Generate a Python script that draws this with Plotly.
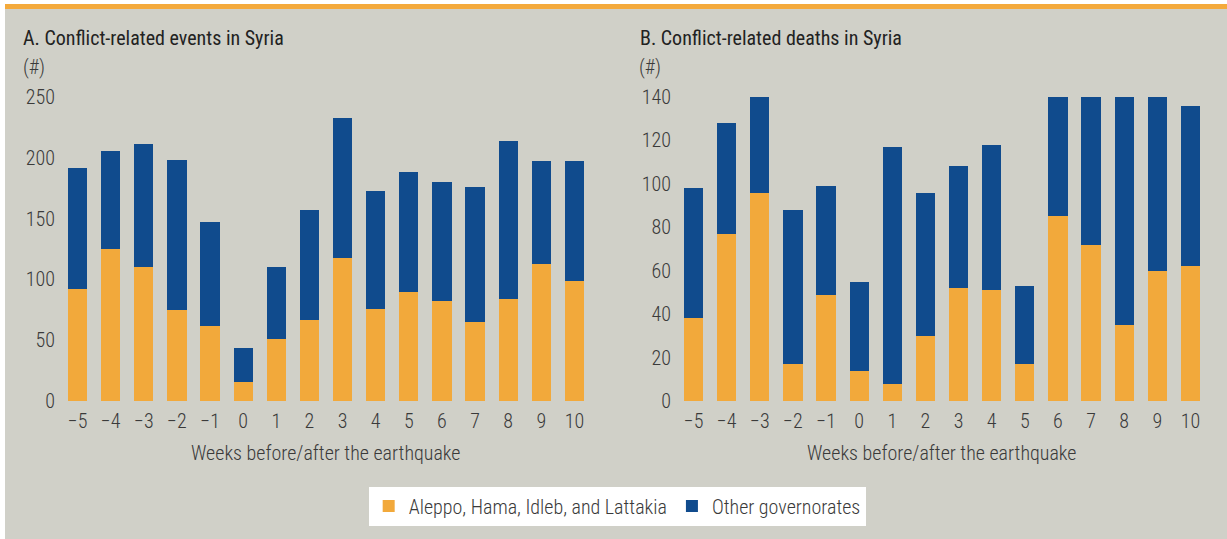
import plotly.graph_objects as go

weeks = [-5, -4, -3, -2, -1, 0, 1, 2, 3, 4, 5, 6, 7, 8, 9, 10]
week_labels = ["\u22125", "\u22124", "\u22123", "\u22122", "\u22121", "0", "1", "2", "3", "4", "5", "6", "7", "8", "9", "10"]

events_group = [92, 125, 110, 75, 62, 16, 51, 67, 118, 76, 90, 82, 65, 84, 113, 99]
events_other = [100, 81, 101, 123, 85, 28, 59, 90, 115, 97, 98, 98, 111, 130, 84, 98]

deaths_group = [38, 77, 96, 17, 49, 14, 8, 30, 52, 51, 17, 85, 72, 35, 60, 62]
deaths_other = [60, 51, 54, 71, 50, 41, 109, 66, 56, 67, 36, 75, 108, 115, 85, 74]

events_ticks = [0, 50, 100, 150, 200, 250]
deaths_ticks = [0, 20, 40, 60, 80, 100, 120, 140]

series_names = ["Aleppo, Hama, Idleb, and Lattakia", "Other governorates"]
ORANGE = "#F2A93B"
BLUE = "#104B8D"
GRAY = "#D0D0C8"
TEXT = "#3a3a3a"
TITLE = "#222222"
FONT = "Roboto Condensed, Liberation Sans, sans-serif"
FS = 20
LIGHT = dict(size=FS, color=TEXT, family=FONT, weight=300)

fig = go.Figure()
fig.add_trace(go.Bar(x=weeks, y=events_group, name=series_names[0], marker_color=ORANGE,
                     width=0.58, xaxis="x", yaxis="y", legendgroup="g", showlegend=True))
fig.add_trace(go.Bar(x=weeks, y=events_other, name=series_names[1], marker_color=BLUE,
                     width=0.58, xaxis="x", yaxis="y", legendgroup="o", showlegend=True))
fig.add_trace(go.Bar(x=weeks, y=deaths_group, name=series_names[0], marker_color=ORANGE,
                     width=0.58, xaxis="x2", yaxis="y2", legendgroup="g", showlegend=False))
fig.add_trace(go.Bar(x=weeks, y=deaths_other, name=series_names[1], marker_color=BLUE,
                     width=0.58, xaxis="x2", yaxis="y2", legendgroup="o", showlegend=False))

W, H = 1227, 539
def px_x(p):
    return p / W
def px_y(p):
    return (H - p) / H

xcommon = dict(range=[-5.5, 10.5], tickvals=weeks, ticktext=week_labels, showgrid=False,
               zeroline=False, showline=False, ticks="", automargin=False, ticklabelstandoff=6,
               tickfont=LIGHT, fixedrange=True)
ycommon = dict(showgrid=False, zeroline=False, showline=False, ticks="", automargin=False,
               ticklabelstandoff=5, tickfont=LIGHT, fixedrange=True)

def note(text, x, y, anchor="left", font=LIGHT):
    return dict(text=text, xref="paper", yref="paper", x=px_x(x), y=px_y(y),
                xanchor=anchor, yanchor="middle", showarrow=False, font=font)

TITLE_FONT = dict(size=FS, color=TITLE, family=FONT, weight=400)

fig.update_layout(
    template="none",
    width=W, height=H,
    barmode="stack",
    paper_bgcolor="white",
    plot_bgcolor="white",
    margin=dict(l=0, r=0, t=0, b=0, pad=0, autoexpand=False),
    font=dict(family=FONT, color=TEXT, size=FS),
    xaxis=dict(domain=[px_x(61), px_x(591)], anchor="y", **xcommon),
    yaxis=dict(domain=[px_y(401), px_y(97)], anchor="x", range=[0, 250], tickvals=events_ticks, **ycommon),
    xaxis2=dict(domain=[px_x(677), px_x(1207)], anchor="y2", **xcommon),
    yaxis2=dict(domain=[px_y(401), px_y(97)], anchor="x2", range=[0, 140], tickvals=deaths_ticks, **ycommon),
    showlegend=True,
    legend=dict(orientation="h", x=0.503, xanchor="center", y=px_y(506), yanchor="middle",
                bgcolor="white", font=LIGHT,
                traceorder="normal", itemclick=False, itemdoubleclick=False),
    shapes=[
        dict(type="rect", xref="paper", yref="paper", x0=px_x(5), x1=1, y0=0, y1=px_y(9),
             fillcolor=GRAY, line_width=0, layer="below"),
        dict(type="rect", xref="paper", yref="paper", x0=px_x(5), x1=1, y0=px_y(9), y1=px_y(4),
             fillcolor="#F4AA3C", line_width=0, layer="below"),
    ],
    annotations=[
        note("A. Conflict-related events in Syria", 21, 38, font=TITLE_FONT),
        note("(#)", 21, 67),
        note("B. Conflict-related deaths in Syria", 638, 38, font=TITLE_FONT),
        note("(#)", 637, 67),
        note("Weeks before/after the earthquake", 326, 453, anchor="center"),
        note("Weeks before/after the earthquake", 942, 453, anchor="center"),
    ],
)

fig.write_html("out.html", config={"displayModeBar": False},
               post_script="document.body.style.margin='0';")
